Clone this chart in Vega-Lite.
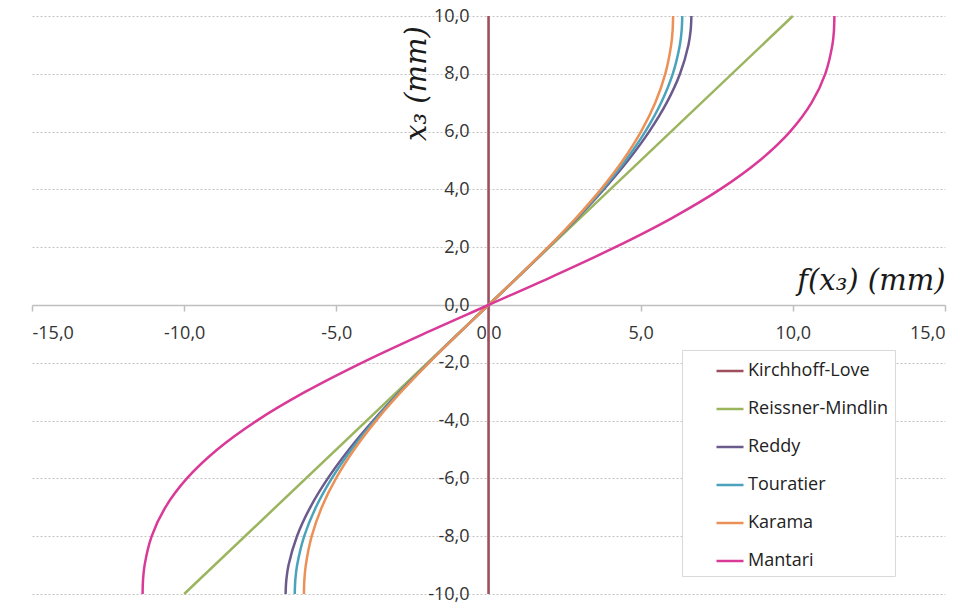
{
  "$schema": "https://vega.github.io/schema/vega-lite/v6.json",
  "width": 913,
  "height": 578,
  "autosize": {"type": "none"},
  "padding": {"left": 32, "top": 16, "right": 21, "bottom": 11},
  "background": "white",
  "config": {
    "view": {"stroke": null},
    "locale": {"number": {"decimal": ",", "thousands": ".", "grouping": [3], "currency": ["", " €"], "minus": "-"}},
    "axis": {"labelFont": "Open Sans", "labelFontSize": 18, "labelColor": "#333333"}
  },
  "data": {"values": [
    {"model": "Kirchhoff-Love", "x3": -10, "f": 0},
    {"model": "Kirchhoff-Love", "x3": 10, "f": 0},
    {"model": "Reissner-Mindlin", "x3": -10, "f": -10},
    {"model": "Reissner-Mindlin", "x3": 10, "f": 10},
    {"model": "Reddy", "x3": -10, "f": -6.667},
    {"model": "Reddy", "x3": -9.5, "f": -6.642},
    {"model": "Reddy", "x3": -9, "f": -6.57},
    {"model": "Reddy", "x3": -8, "f": -6.293},
    {"model": "Reddy", "x3": -7, "f": -5.857},
    {"model": "Reddy", "x3": -6, "f": -5.28},
    {"model": "Reddy", "x3": -5, "f": -4.583},
    {"model": "Reddy", "x3": -4, "f": -3.787},
    {"model": "Reddy", "x3": -3, "f": -2.91},
    {"model": "Reddy", "x3": -2, "f": -1.973},
    {"model": "Reddy", "x3": -1, "f": -0.997},
    {"model": "Reddy", "x3": 0, "f": 0},
    {"model": "Reddy", "x3": 1, "f": 0.997},
    {"model": "Reddy", "x3": 2, "f": 1.973},
    {"model": "Reddy", "x3": 3, "f": 2.91},
    {"model": "Reddy", "x3": 4, "f": 3.787},
    {"model": "Reddy", "x3": 5, "f": 4.583},
    {"model": "Reddy", "x3": 6, "f": 5.28},
    {"model": "Reddy", "x3": 7, "f": 5.857},
    {"model": "Reddy", "x3": 8, "f": 6.293},
    {"model": "Reddy", "x3": 9, "f": 6.57},
    {"model": "Reddy", "x3": 9.5, "f": 6.642},
    {"model": "Reddy", "x3": 10, "f": 6.667},
    {"model": "Touratier", "x3": -10, "f": -6.366},
    {"model": "Touratier", "x3": -9.5, "f": -6.347},
    {"model": "Touratier", "x3": -9, "f": -6.288},
    {"model": "Touratier", "x3": -8, "f": -6.055},
    {"model": "Touratier", "x3": -7, "f": -5.672},
    {"model": "Touratier", "x3": -6, "f": -5.15},
    {"model": "Touratier", "x3": -5, "f": -4.502},
    {"model": "Touratier", "x3": -4, "f": -3.742},
    {"model": "Touratier", "x3": -3, "f": -2.89},
    {"model": "Touratier", "x3": -2, "f": -1.967},
    {"model": "Touratier", "x3": -1, "f": -0.996},
    {"model": "Touratier", "x3": 0, "f": 0},
    {"model": "Touratier", "x3": 1, "f": 0.996},
    {"model": "Touratier", "x3": 2, "f": 1.967},
    {"model": "Touratier", "x3": 3, "f": 2.89},
    {"model": "Touratier", "x3": 4, "f": 3.742},
    {"model": "Touratier", "x3": 5, "f": 4.502},
    {"model": "Touratier", "x3": 6, "f": 5.15},
    {"model": "Touratier", "x3": 7, "f": 5.672},
    {"model": "Touratier", "x3": 8, "f": 6.055},
    {"model": "Touratier", "x3": 9, "f": 6.288},
    {"model": "Touratier", "x3": 9.5, "f": 6.347},
    {"model": "Touratier", "x3": 10, "f": 6.366},
    {"model": "Karama", "x3": -10, "f": -6.065},
    {"model": "Karama", "x3": -9.5, "f": -6.05},
    {"model": "Karama", "x3": -9, "f": -6.003},
    {"model": "Karama", "x3": -8, "f": -5.809},
    {"model": "Karama", "x3": -7, "f": -5.479},
    {"model": "Karama", "x3": -6, "f": -5.012},
    {"model": "Karama", "x3": -5, "f": -4.413},
    {"model": "Karama", "x3": -4, "f": -3.693},
    {"model": "Karama", "x3": -3, "f": -2.868},
    {"model": "Karama", "x3": -2, "f": -1.96},
    {"model": "Karama", "x3": -1, "f": -0.995},
    {"model": "Karama", "x3": 0, "f": 0},
    {"model": "Karama", "x3": 1, "f": 0.995},
    {"model": "Karama", "x3": 2, "f": 1.96},
    {"model": "Karama", "x3": 3, "f": 2.868},
    {"model": "Karama", "x3": 4, "f": 3.693},
    {"model": "Karama", "x3": 5, "f": 4.413},
    {"model": "Karama", "x3": 6, "f": 5.012},
    {"model": "Karama", "x3": 7, "f": 5.479},
    {"model": "Karama", "x3": 8, "f": 5.809},
    {"model": "Karama", "x3": 9, "f": 6.003},
    {"model": "Karama", "x3": 9.5, "f": 6.05},
    {"model": "Karama", "x3": 10, "f": 6.065},
    {"model": "Mantari", "x3": -10, "f": -11.366},
    {"model": "Mantari", "x3": -9.5, "f": -11.351},
    {"model": "Mantari", "x3": -9, "f": -11.3},
    {"model": "Mantari", "x3": -8, "f": -11.066},
    {"model": "Mantari", "x3": -7, "f": -10.618},
    {"model": "Mantari", "x3": -6, "f": -9.91},
    {"model": "Mantari", "x3": -5, "f": -8.911},
    {"model": "Mantari", "x3": -4, "f": -7.608},
    {"model": "Mantari", "x3": -3, "f": -6.012},
    {"model": "Mantari", "x3": -2, "f": -4.165},
    {"model": "Mantari", "x3": -1, "f": -2.132},
    {"model": "Mantari", "x3": 0, "f": 0},
    {"model": "Mantari", "x3": 1, "f": 2.132},
    {"model": "Mantari", "x3": 2, "f": 4.165},
    {"model": "Mantari", "x3": 3, "f": 6.012},
    {"model": "Mantari", "x3": 4, "f": 7.608},
    {"model": "Mantari", "x3": 5, "f": 8.911},
    {"model": "Mantari", "x3": 6, "f": 9.91},
    {"model": "Mantari", "x3": 7, "f": 10.618},
    {"model": "Mantari", "x3": 8, "f": 11.066},
    {"model": "Mantari", "x3": 9, "f": 11.3},
    {"model": "Mantari", "x3": 9.5, "f": 11.351},
    {"model": "Mantari", "x3": 10, "f": 11.366}
  ]},
  "mark": {"type": "line", "strokeWidth": 2.5, "interpolate": "catmull-rom"},
  "encoding": {
    "x": {
      "field": "f", "type": "quantitative",
      "scale": {"domain": [-15, 15], "nice": false, "zero": false},
      "axis": {
        "orient": "bottom", "offset": -289,
        "values": [-15, -10, -5, 0, 5, 10, 15], "format": ".1f",
        "grid": false, "domainColor": "#bfbfbf", "domainWidth": 1.5,
        "tickColor": "#bfbfbf", "tickSize": 6, "tickWidth": 1.5, "labelPadding": 13,
        "title": "f(x₃) (mm)", "titleFont": "DejaVu Serif", "titleFontStyle": "italic",
        "titleFontWeight": "normal", "titleFontSize": 29, "titleColor": "#1a1a1a",
        "titleX": 913, "titleY": -16, "titleAlign": "right", "titleBaseline": "alphabetic", "titleAngle": 0
      }
    },
    "y": {
      "field": "x3", "type": "quantitative",
      "scale": {"domain": [-10, 10], "nice": false, "zero": false},
      "axis": {
        "orient": "left", "offset": -457,
        "values": [-10, -8, -6, -4, -2, 0, 2, 4, 6, 8, 10], "format": ".1f",
        "ticks": false, "labelPadding": 20, "domainColor": "#bfbfbf",
        "grid": true, "gridColor": "#c4c4c4", "gridDash": [2, 2], "gridWidth": 1,
        "title": "x₃ (mm)", "titleFont": "DejaVu Serif", "titleFontStyle": "italic",
        "titleFontWeight": "normal", "titleFontSize": 29, "titleColor": "#1a1a1a",
        "titleX": -73, "titleY": 67, "titleAngle": -90, "titleAlign": "center", "titleBaseline": "middle"
      }
    },
    "color": {
      "field": "model", "type": "nominal",
      "scale": {
        "domain": ["Kirchhoff-Love", "Reissner-Mindlin", "Reddy", "Touratier", "Karama", "Mantari"],
        "range": ["#9e4f5c", "#9bb55f", "#6b5a8c", "#4aa3bb", "#eb9158", "#d93a98"]
      },
      "legend": {
        "orient": "none", "legendX": 650, "legendY": 334,
        "title": null, "symbolType": "stroke", "symbolSize": 729, "symbolStrokeWidth": 2.5,
        "symbolOffset": 27, "labelOffset": 3,
        "labelFont": "Open Sans", "labelFontSize": 18, "labelColor": "#222222",
        "rowPadding": 14, "padding": 6,
        "strokeColor": "#d9d9d9", "fillColor": "white", "cornerRadius": 0
      }
    },
    "order": {"field": "x3", "type": "quantitative"}
  }
}
